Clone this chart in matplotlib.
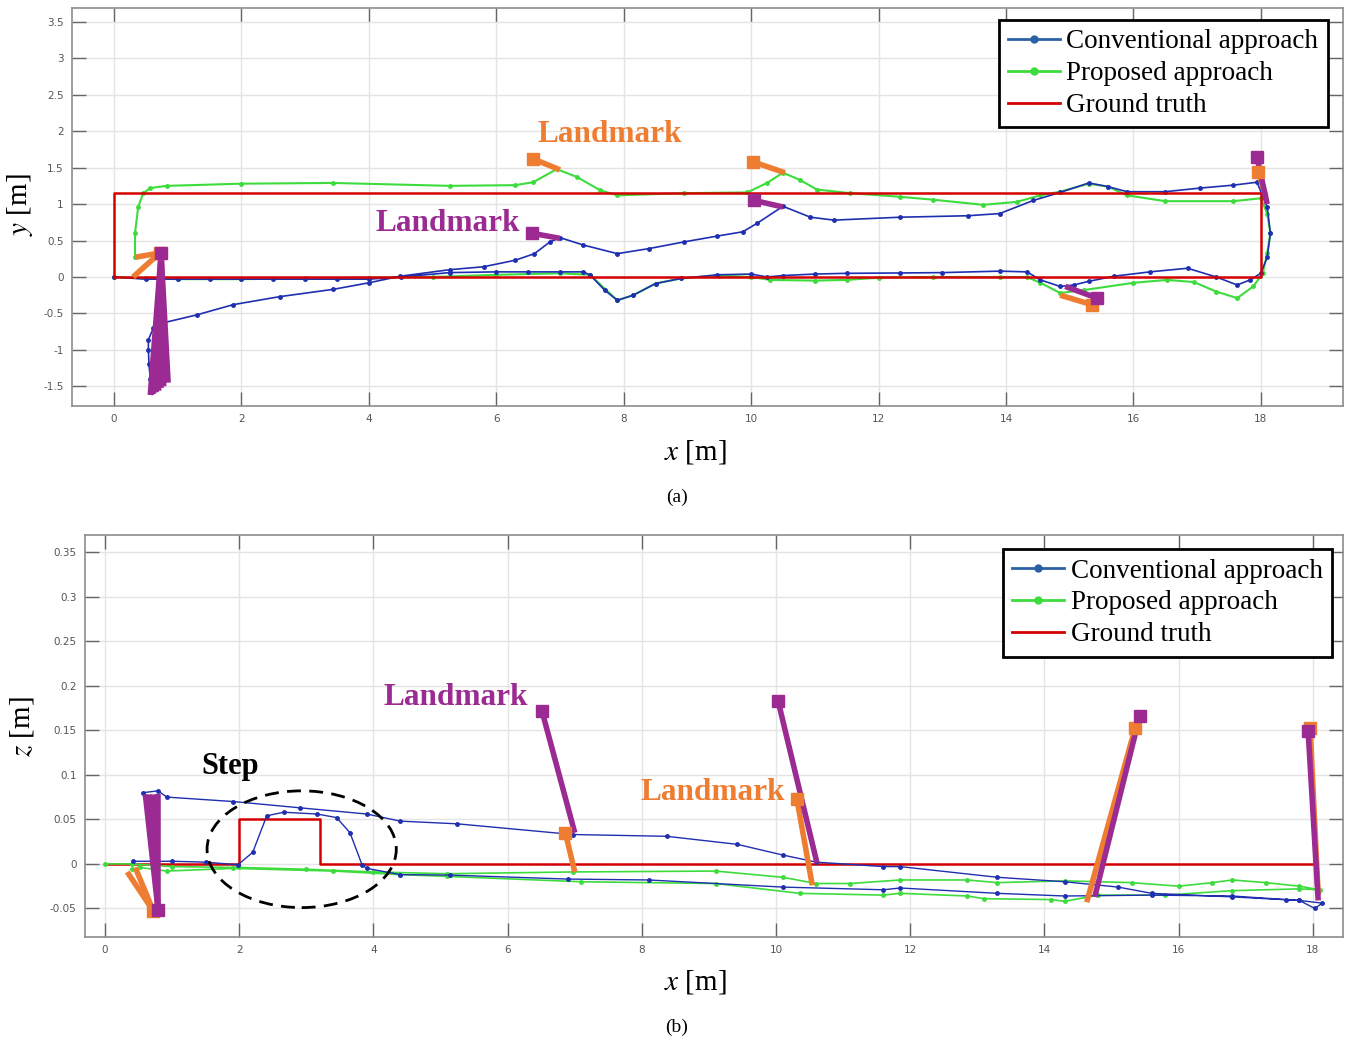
import matplotlib
matplotlib.use("Agg")
import matplotlib.pyplot as plt
from matplotlib.lines import Line2D
from matplotlib.patches import Ellipse

plt.rcParams['mathtext.fontset'] = 'stix'

# ---------- (a) x-y plane ----------
gt_x = [0, 18, 18, 0, 0]
gt_y = [0, 0, 1.15, 1.15, 0]

conv_x = [0, 0.5, 1, 1.5, 2, 2.5, 3, 3.5, 4, 4.5, 5.27, 6, 6.5, 7, 7.36, 7.47, 7.7, 7.9, 8.15, 8.5,
          8.9, 9.47, 10.0, 10.25, 10.5, 11, 11.5, 12.34, 13, 13.9, 14.33, 14.54, 14.85, 15.06, 15.3,
          15.69, 16.26, 16.85, 17.3, 17.63, 17.83, 18.0, 18.1, 18.15, 18.1, 17.94,
          17.57, 17.05, 16.5, 15.9, 15.6, 15.3, 14.85, 14.43, 13.9, 13.4, 12.34, 11.3, 10.93, 10.5,
          10.1, 9.87, 9.46, 8.94, 8.4, 7.9, 7.36, 7.0, 6.84, 6.6, 6.3, 5.8, 5.27, 4.49, 4.0, 3.44,
          2.6, 1.87, 1.3, 0.77, 0.62, 0.54, 0.54, 0.55, 0.57, 0.6]
conv_y = [0, -0.03, -0.03, -0.03, -0.03, -0.03, -0.03, -0.03, -0.03, 0.0, 0.06, 0.07, 0.07, 0.07, 0.07, 0.03, -0.18, -0.32, -0.25, -0.09,
          -0.02, 0.03, 0.04, 0.0, 0.02, 0.04, 0.05, 0.055, 0.06, 0.08, 0.07, -0.04, -0.13, -0.11, -0.06,
          0.01, 0.07, 0.12, 0.0, -0.11, -0.04, 0.05, 0.27, 0.6, 0.96, 1.3,
          1.26, 1.22, 1.17, 1.17, 1.24, 1.29, 1.16, 1.05, 0.87, 0.84, 0.82, 0.78, 0.82, 0.97,
          0.74, 0.62, 0.56, 0.48, 0.39, 0.32, 0.44, 0.54, 0.48, 0.32, 0.23, 0.14, 0.1, 0.01, -0.08, -0.17,
          -0.27, -0.38, -0.52, -0.63, -0.7, -0.86, -1.0, -1.2, -1.4, -1.58]

prop_x = [0, 0.5, 1, 2, 3, 4, 5, 6, 7, 7.47, 7.9, 8.15, 8.5, 8.9, 9.5, 10, 10.3, 11, 11.5, 12, 12.86,
          13.9, 14.33, 14.54, 14.85, 15.22, 16.0, 16.53, 16.95, 17.3, 17.63, 17.88, 18.03, 18.1, 18.15,
          18.1, 18.0,
          17.57, 16.5, 15.9, 15.6, 15.3, 14.85, 14.54, 14.17, 13.64, 12.86, 12.34, 11.55, 11.03, 10.77,
          10.5, 10.25, 9.94, 8.94, 7.9, 7.63, 7.27, 6.95, 6.58, 6.3, 5.27, 3.44, 2.0, 0.83, 0.57, 0.46,
          0.38, 0.33, 0.33]
prop_y = [0, -0.02, -0.03, -0.03, -0.02, -0.01, 0.0, 0.03, 0.05, 0.03, -0.32, -0.25, -0.09, -0.02, 0.02, 0.0, -0.04, -0.05, -0.04, -0.01, 0.0,
          0.0, 0.0, -0.08, -0.22, -0.18, -0.08, -0.04, -0.07, -0.2, -0.29, -0.13, 0.05, 0.33, 0.6,
          0.87, 1.08,
          1.04, 1.04, 1.12, 1.24, 1.28, 1.17, 1.12, 1.03, 0.99, 1.06, 1.1, 1.15, 1.2, 1.33,
          1.43, 1.29, 1.16, 1.15, 1.12, 1.19, 1.37, 1.48, 1.30, 1.26, 1.25, 1.29, 1.28, 1.25, 1.22, 1.15,
          0.96, 0.6, 0.27]

# landmark squares and the trajectory points they are linked to
a_org_sq_x = [0.72, 6.58, 10.03, 15.35, 17.96]
a_org_sq_y = [0.33, 1.62, 1.58, -0.38, 1.44]
a_org_obs_x = [[0.33, 0.30], [7.0], [10.53], [14.85], [18.08]]
a_org_obs_y = [[0.27, 0.0], [1.47], [1.43], [-0.25], [1.10]]
a_pur_sq_x = [0.74, 6.56, 10.05, 15.43, 17.94]
a_pur_sq_y = [0.33, 0.60, 1.05, -0.29, 1.64]
a_pur_obs_x = [[0.57, 0.62, 0.66, 0.70, 0.74, 0.78, 0.85], [7.0], [10.5], [14.93], [18.1]]
a_pur_obs_y = [[-1.62, -1.60, -1.58, -1.56, -1.53, -1.50, -1.45], [0.53], [0.96], [-0.13], [1.0]]

# ---------- (b) x-z plane ----------
gt_bx = [0, 2, 2, 3.2, 3.2, 18]
gt_bz = [0, 0, 0.05, 0.05, 0, 0]

conv_bx = [0.42, 1.0, 1.5, 1.98, 2.2, 2.41, 2.66, 3.16, 3.45, 3.65, 3.83, 3.9, 4.4, 5.14, 6.9, 8.1,
           10.1, 11.6, 11.85, 13.3, 14.3, 15.6, 16.8, 17.6, 17.8, 18.03, 18.14,
           17.8, 16.8, 15.6, 15.1, 14.3, 13.3, 11.85, 11.6, 10.6, 10.1, 9.42, 8.37, 6.97, 5.25, 4.4,
           3.9, 2.9, 1.91, 0.92, 0.79, 0.57]
conv_bz = [0.003, 0.003, 0.002, -0.001, 0.013, 0.054, 0.058, 0.056, 0.052, 0.035, -0.001, -0.005, -0.012, -0.0125, -0.017, -0.018,
           -0.026, -0.029, -0.027, -0.033, -0.036, -0.035, -0.036, -0.04, -0.041, -0.05, -0.044,
           -0.041, -0.037, -0.033, -0.026, -0.02, -0.015, -0.003, -0.003, 0.002, 0.01, 0.022, 0.031, 0.033, 0.045, 0.048,
           0.056, 0.063, 0.07, 0.075, 0.082, 0.08]

prop_bx = [0, 0.4, 1, 2, 3, 4, 5.1, 6.97, 9.1, 10.1, 10.6, 11.1, 11.85, 12.85, 13.3, 14.3, 15.3, 16,
           16.5, 16.8, 17.3, 17.8, 18.1,
           17.8, 16.8, 15.8, 14.8, 14.3, 14.1, 13.1, 12.85, 11.85, 11.6, 10.35, 9.1, 7.1, 5.1, 4.4,
           3.4, 1.91, 0.92, 0.52, 0.4]
prop_bz = [0, 0.0, -0.003, -0.004, -0.006, -0.009, -0.011, -0.009, -0.008, -0.015, -0.022, -0.022, -0.018, -0.018, -0.021, -0.019, -0.021, -0.025,
           -0.021, -0.018, -0.021, -0.025, -0.029,
           -0.028, -0.03, -0.035, -0.035, -0.042, -0.04, -0.039, -0.036, -0.033, -0.035, -0.033, -0.022, -0.02, -0.014, -0.012,
           -0.008, -0.005, -0.008, -0.004, -0.006]

b_org_sq_x = [0.72, 6.86, 10.31, 15.35, 17.96]
b_org_sq_z = [-0.053, 0.035, 0.073, 0.152, 0.152]
b_org_obs_x = [[0.33, 0.45], [7.0], [10.54], [14.63], [18.08]]
b_org_obs_z = [[-0.009, -0.004], [-0.009], [-0.024], [-0.043], [-0.035]]
b_pur_sq_x = [0.79, 6.51, 10.03, 15.42, 17.93]
b_pur_sq_z = [-0.052, 0.172, 0.183, 0.166, 0.149]
b_pur_obs_x = [[0.6, 0.66, 0.72, 0.79], [7.0], [10.61], [14.75], [18.08]]
b_pur_obs_z = [[0.078, 0.078, 0.078, 0.078], [0.035], [0.001], [-0.037], [-0.041]]

BLUE = '#1f2fb0'
BLUE_LEG = '#2b62a6'
GREEN = '#3ddc3d'
RED = '#d40000'
ORANGE = '#ee7d32'
PURPLE = '#9b2b92'
SERIF = 'Liberation Serif'


def links(ax, sq_x, sq_y, obs_x, obs_y, color):
    for sx, sy, ox, oy in zip(sq_x, sq_y, obs_x, obs_y):
        for px, py in zip(ox, oy):
            ax.plot([px, sx], [py, sy], color=color, lw=4, solid_capstyle='butt', zorder=5)
        ax.plot(sx, sy, 's', color=color, ms=9, zorder=6)


def style(ax, xlim, ylim, xticks, yticks, yfmt):
    ax.set_xlim(*xlim)
    ax.set_ylim(*ylim)
    ax.set_xticks(xticks)
    ax.set_yticks(yticks)
    ax.set_yticklabels([yfmt(v) for v in yticks])
    ax.grid(True, color='#e4e4e4', lw=1)
    ax.set_axisbelow(True)
    ax.tick_params(direction='in', length=10, width=1, top=True, right=True,
                   labelsize=7.5, labelcolor='#555555', color='#666666', pad=6)
    for s in ax.spines.values():
        s.set_color('#8c8c8c')
        s.set_linewidth(1.2)


def legend(ax, anchor):
    handles = [Line2D([], [], color=BLUE_LEG, lw=2, marker='o', ms=5, markevery=[1]),
               Line2D([], [], color=GREEN, lw=2, marker='o', ms=5, markevery=[1]),
               Line2D([], [], color=RED, lw=2)]
    for h in handles[:2]:
        h.set_data([0, 0.5, 1], [0, 0, 0])
    leg = ax.legend(handles, ['Conventional approach', 'Proposed approach', 'Ground truth'],
                    loc='upper right', bbox_to_anchor=anchor, bbox_transform=fig.transFigure,
                    borderaxespad=0, fancybox=False, framealpha=1, edgecolor='black',
                    prop={'family': SERIF, 'size': 19.5}, handlelength=1.9, handletextpad=0.25,
                    labelspacing=0.25, borderpad=0.35)
    leg.get_frame().set_linewidth(2)
    leg.set_zorder(20)


fig = plt.figure(figsize=(13.57, 10.41), dpi=100)

ax1 = fig.add_axes([0.053, 0.610, 0.9367, 0.3823])
ax1.plot(prop_x, prop_y, '-o', color=GREEN, lw=1.5, ms=2.5, zorder=3)
ax1.plot(conv_x, conv_y, '-o', color=BLUE, lw=1.2, ms=2.5, zorder=3)
ax1.plot(gt_x, gt_y, color=RED, lw=1.8, zorder=4)
links(ax1, a_org_sq_x, a_org_sq_y, a_org_obs_x, a_org_obs_y, ORANGE)
links(ax1, a_pur_sq_x, a_pur_sq_y, a_pur_obs_x, a_pur_obs_y, PURPLE)
style(ax1, (-0.66, 19.29), (-1.77, 3.69), range(0, 19, 2),
      [-1.5, -1, -0.5, 0, 0.5, 1, 1.5, 2, 2.5, 3, 3.5], lambda v: f'{v:g}')
ax1.text(7.78, 1.96, 'Landmark', color=ORANGE, family=SERIF, weight='bold', size=22.5,
         ha='center', va='center', zorder=10)
ax1.text(5.24, 0.73, 'Landmark', color=PURPLE, family=SERIF, weight='bold', size=22.5,
         ha='center', va='center', zorder=10)
legend(ax1, (0.9786, 0.9808))

ax2 = fig.add_axes([0.0626, 0.0999, 0.9271, 0.3861])
ax2.plot(prop_bx, prop_bz, '-o', color=GREEN, lw=1.2, ms=2.5, zorder=3)
ax2.plot(conv_bx, conv_bz, '-o', color=BLUE, lw=1.0, ms=2.5, zorder=3)
ax2.plot(gt_bx, gt_bz, color=RED, lw=1.8, zorder=2)
links(ax2, b_org_sq_x, b_org_sq_z, b_org_obs_x, b_org_obs_z, ORANGE)
links(ax2, b_pur_sq_x, b_pur_sq_z, b_pur_obs_x, b_pur_obs_z, PURPLE)
style(ax2, (-0.3, 18.45), (-0.082, 0.369), range(0, 19, 2),
      [-0.05, 0, 0.05, 0.1, 0.15, 0.2, 0.25, 0.3, 0.35], lambda v: f'{v:g}')
ax2.add_patch(Ellipse((2.93, 0.0165), 2.82, 0.131, fill=False, ls=(0, (5, 3)),
                      lw=2, color='black', zorder=7))
ax2.text(1.86, 0.109, 'Step', color='black', family=SERIF, weight='bold', size=22,
         ha='center', va='center', zorder=10)
ax2.text(5.22, 0.187, 'Landmark', color=PURPLE, family=SERIF, weight='bold', size=22.5,
         ha='center', va='center', zorder=10)
ax2.text(9.06, 0.08, 'Landmark', color=ORANGE, family=SERIF, weight='bold', size=22.5,
         ha='center', va='center', zorder=10)
legend(ax2, (0.9816, 0.4726))

# axis labels and captions
fig.text(695 / 1357, 1 - 452 / 1041, r'$x$ [m]', family=SERIF, size=21, ha='center', va='center')
fig.text(695 / 1357, 1 - 982 / 1041, r'$x$ [m]', family=SERIF, size=21, ha='center', va='center')
fig.text(20 / 1357, 1 - 205 / 1041, r'$y$ [m]', family=SERIF, size=21, ha='center', va='center', rotation=90)
fig.text(22 / 1357, 1 - 727 / 1041, r'$z$ [m]', family=SERIF, size=21, ha='center', va='center', rotation=90)
fig.text(677 / 1357, 1 - 497 / 1041, '(a)', family=SERIF, size=14, ha='center', va='center')
fig.text(677 / 1357, 1 - 1027 / 1041, '(b)', family=SERIF, size=14, ha='center', va='center')

fig.savefig('out.png', dpi=100)
